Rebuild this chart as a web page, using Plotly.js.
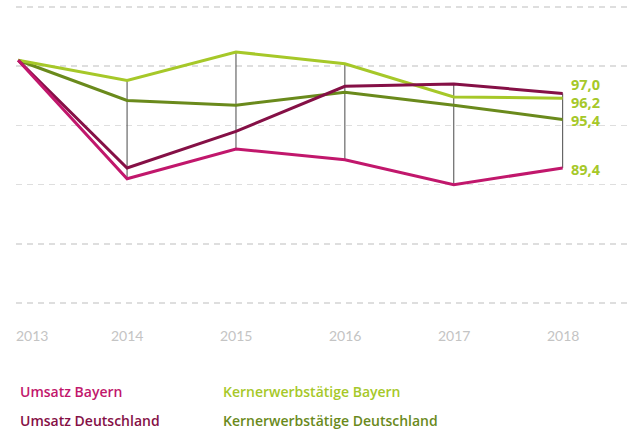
<!DOCTYPE html>
<html>
<head>
<meta charset="utf-8">
<script src="https://cdn.plot.ly/plotly-3.0.1.min.js"></script>
<style>html,body{margin:0;padding:0;background:#fff;}#chart{width:628px;height:430px;}</style>
</head>
<body>
<div id="chart"></div>
<script>
const years = [2013, 2014, 2015, 2016, 2017, 2018];
const yearLabels = ["2013", "2014", "2015", "2016", "2017", "2018"];
const umsatzBayern = [100.5, 90.5, 93.0, 92.1, 90.0, 91.4];
const umsatzDeutschland = [100.5, 91.4, 94.5, 98.3, 98.5, 97.7];
const kernBayern = [100.5, 98.8, 101.2, 100.2, 97.4, 97.3];
const kernDeutschland = [100.5, 97.1, 96.7, 97.8, 96.7, 95.5];
const seriesNames = ["Umsatz Bayern", "Umsatz Deutschland", "Kernerwerbstätige Bayern", "Kernerwerbstätige Deutschland"];
const seriesColors = ["#c1176c", "#851046", "#a6c829", "#6a8a1c"];
const endLabels = ["89,4", "97,0", "96,2", "95,4"];
const endLabelShift = [-1, 9, -4, -1];

const allSeries = [umsatzBayern, umsatzDeutschland, kernBayern, kernDeutschland];

const vx = [], vy = [];
for (let i = 1; i < years.length; i++) {
  const vals = allSeries.map(s => s[i]);
  vx.push(years[i], years[i], null);
  vy.push(Math.max(...vals), Math.min(...vals), null);
}

const traces = [{
  x: vx, y: vy, mode: 'lines', line: {color: '#4a4a4a', width: 1},
  hoverinfo: 'skip', showlegend: false
}];
const order = [3, 2, 1, 0];
order.forEach(k => {
  traces.push({
    x: years, y: allSeries[k], mode: 'lines', name: seriesNames[k],
    line: {color: seriesColors[k], width: 3}, showlegend: false
  });
});

const M = {l: 16, r: 0, t: 1, b: 121};
const plotW = 628 - M.l - M.r, plotH = 430 - M.t - M.b;

const annotations = [];
allSeries.forEach((s, k) => {
  annotations.push({
    x: years[years.length - 1], y: s[s.length - 1], xref: 'x', yref: 'y',
    text: '<b>' + endLabels[k] + '</b>', showarrow: false, xanchor: 'left',
    xshift: 7, yshift: endLabelShift[k], borderpad: 0,
    font: {family: 'Open Sans, sans-serif', size: 14.5, color: '#a6c829'}
  });
});
// year labels below the plot
years.forEach((yr, i) => {
  annotations.push({
    x: yr, y: 1 - (335 - M.t) / plotH, xref: 'x', yref: 'paper',
    text: yearLabels[i], showarrow: false,
    xanchor: i === 0 ? 'left' : 'center', xshift: i === 0 ? -3 : 0,
    yanchor: 'middle', borderpad: 0,
    font: {family: 'Lato, sans-serif', size: 14, color: '#c4c4c4'}
  });
});
const legendPos = [[19, 391], [19, 420], [222, 391], [222, 420]];
seriesNames.forEach((n, k) => {
  annotations.push({
    x: (legendPos[k][0] - M.l) / plotW, y: 1 - (legendPos[k][1] - M.t) / plotH,
    xref: 'paper', yref: 'paper',
    text: n, showarrow: false, xanchor: 'left', yanchor: 'middle', borderpad: 0,
    font: {family: 'Open Sans, sans-serif', size: 14, color: seriesColors[k], weight: 600}
  });
});

const layout = {
  width: 628, height: 430,
  margin: M,
  paper_bgcolor: '#fff', plot_bgcolor: '#fff',
  showlegend: false,
  xaxis: {
    range: [2012.98, 2018.6], tickvals: years,
    showticklabels: false, showgrid: false, zeroline: false, showline: false
  },
  yaxis: {
    range: [79.5, 105.5], tickvals: [80, 85, 90, 95, 100, 105],
    showticklabels: false, showgrid: true, gridcolor: '#dedede', gridwidth: 1.5,
    griddash: '6px,5px', zeroline: false, showline: false
  },
  annotations: annotations
};
Plotly.newPlot('chart', traces, layout, {staticPlot: true, displayModeBar: false});
</script>
</body>
</html>
